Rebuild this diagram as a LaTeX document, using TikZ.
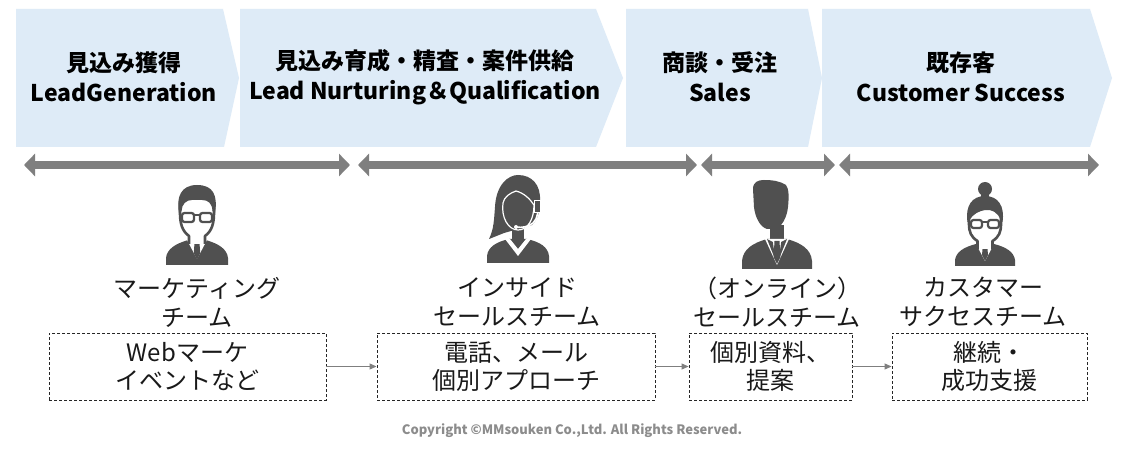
\documentclass[tikz,border=0pt]{standalone}
\usepackage{fontspec}
\setmainfont{Noto Sans CJK JP}
\usetikzlibrary{arrows.meta}
\definecolor{chev}{RGB}{222,235,247}
\definecolor{arrg}{RGB}{127,127,127}
\definecolor{iconc}{RGB}{80,80,80}
\definecolor{copyc}{RGB}{140,140,140}
\tikzset{
  chevshape/.style={fill=chev, draw=none},
  chevtext/.style={font=\fontsize{23}{30}\selectfont\bfseries, align=center, text=black, inner sep=0pt},
  team/.style={font=\fontsize{24}{29}\selectfont, align=center, inner sep=0pt, text=black!90},
  task/.style={draw=black!85, dash pattern=on 3pt off 2pt, line width=0.9pt, minimum height=67pt,
    font=\fontsize{24}{28}\selectfont, align=center, inner sep=0pt, text=black!90},
  phase/.style={arrg, line width=8pt, {Triangle[length=11pt,width=22pt]}-{Triangle[length=11pt,width=22pt]}},
  flow/.style={arrg, line width=1pt, -{Triangle[length=7pt,width=6pt]}},
  outline/.style={draw=iconc, line width=2.6pt, fill=white, line join=round},
  pics/manglasses/.style={code={
    \begin{scope}[yscale=-1]
      \fill[iconc] (-31,0) -- (-31,7) .. controls (-30,16) and (-22,21) .. (-9,25) -- (9,25) .. controls (22,21) and (30,16) .. (31,7) -- (31,0) -- cycle;
      \fill[white] (-10,25) -- (0,6) -- (10,25) -- cycle;
      \fill[iconc] (-2.5,22) -- (2.5,22) -- (3.2,12) -- (0,5) -- (-3.2,12) -- cycle;
      \draw[outline] (-8,21) -- (-8,29) .. controls (-15,34) and (-17,42) .. (-17,52) -- (-17,62) .. controls (-17,72) and (17,72) .. (17,62) -- (17,52) .. controls (17,42) and (15,34) .. (8,29) -- (8,21);
      \fill[iconc] (-18,52) .. controls (-21,68) and (-16,80) .. (0,80) .. controls (16,80) and (21,70) .. (18,52) -- (15.5,54) .. controls (15,62) and (11,65) .. (5,65) -- (-5,65) .. controls (-11,65) and (-15,61) .. (-15.5,54) -- cycle;
      \draw[draw=iconc, line width=2.3pt, fill=white, rounded corners=2.5pt] (-15,43) rectangle (-3,52);
      \draw[draw=iconc, line width=2.3pt, fill=white, rounded corners=2.5pt] (3,43) rectangle (15,52);
      \draw[iconc, line width=2.3pt] (-3,50) -- (3,50);
    \end{scope}}},
  pics/womanheadset/.style={code={
    \begin{scope}[yscale=-1]
      \fill[iconc] (-29,24) .. controls (-24,34) and (-24,44) .. (-23,56) .. controls (-22,78) and (-10,88) .. (0,88) .. controls (14,88) and (23,78) .. (22,62) .. controls (22,52) and (20,44) .. (14,38) -- (-14,30) -- cycle;
      \fill[iconc] (-31,0) -- (-31,7) .. controls (-30,16) and (-22,21) .. (-9,24) -- (9,24) .. controls (22,21) and (30,16) .. (31,7) -- (31,0) -- cycle;
      \fill[iconc] (-6,20) rectangle (6,34);
      \fill[white] (-13,24) -- (0,7) -- (13,24) -- (8,24) -- (0,14) -- (-8,24) -- cycle;
      \draw[white, line width=1.2pt, fill=iconc] (-15,60) .. controls (-17,46) and (-10,33) .. (0,33) .. controls (10,33) and (16,44) .. (16,58) .. controls (12,64) and (6,70) .. (-2,72) .. controls (-8,70) and (-14,66) .. (-15,60) -- cycle;
      \draw[white, line width=1.6pt] (18,60) .. controls (21,52) and (20,45) .. (15,40) .. controls (10,36) and (4,35) .. (-2,36);
      \fill[white] (-2,36) circle (2pt);
      \draw[white, line width=1pt, fill=iconc] (16,50) rectangle (22,62);
    \end{scope}}},
  pics/mansolid/.style={code={
    \begin{scope}[yscale=-1]
      \fill[iconc] (-35,0) -- (-35,8) .. controls (-34,20) and (-24,26) .. (-10,30) -- (10,30) .. controls (24,26) and (34,20) .. (35,8) -- (35,0) -- cycle;
      \fill[iconc] (-7,26) rectangle (7,44);
      \fill[iconc] (-10,40) .. controls (-17,42) and (-22,52) .. (-23,62) -- (-24,80) .. controls (-24,87) and (-19,89) .. (-13,89) .. controls (-5,89) and (3,88) .. (9,84) .. controls (12,80) and (12,72) .. (11,62) .. controls (10,52) and (5,42) .. (-2,40) -- cycle;
      \fill[white] (-12,30) -- (0,4) -- (12,30) -- cycle;
      \fill[iconc] (-10,30) -- (-1.6,9) -- (-4.2,27) -- cycle;
      \fill[iconc] (10,30) -- (1.6,9) -- (4.2,27) -- cycle;
      \fill[iconc] (-2.5,28) -- (2.5,28) -- (3.4,12) -- (0,5) -- (-3.4,12) -- cycle;
    \end{scope}}},
  pics/womanbun/.style={code={
    \begin{scope}[yscale=-1]
      \fill[iconc] (-30,0) -- (-30,6) .. controls (-29,14) and (-21,19) .. (-9,22) -- (9,22) .. controls (21,19) and (29,14) .. (30,6) -- (30,0) -- cycle;
      \fill[white] (-9,22) -- (0,5) -- (9,22) -- cycle;
      \fill[iconc] (-2.3,19) -- (2.3,19) -- (3,11) -- (0,5) -- (-3,11) -- cycle;
      \draw[outline] (-7.5,17) -- (-7.5,25) .. controls (-14,29) and (-16,34) .. (-16,42) -- (-16,50) .. controls (-16,62) and (16,62) .. (16,50) -- (16,42) .. controls (16,34) and (14,29) .. (7.5,25) -- (7.5,17);
      \fill[iconc] (-17.5,44) .. controls (-20,60) and (-13,70) .. (0,70) .. controls (13,70) and (20,60) .. (17.5,44) -- (15.5,46) .. controls (13,54) and (6,57) .. (0,56) .. controls (-6,55) and (-12,52) .. (-15.5,46) -- cycle;
      \fill[iconc] (-4,66) rectangle (4,74);
      \fill[iconc] (0,77) circle (7);
      \draw[draw=iconc, line width=2.2pt, fill=white, rounded corners=2.5pt] (-14,38) rectangle (-3,46);
      \draw[draw=iconc, line width=2.2pt, fill=white, rounded corners=2.5pt] (3,38) rectangle (14,46);
      \draw[iconc, line width=2.2pt] (-3,44) -- (3,44);
    \end{scope}}}
}
\begin{document}
\begin{tikzpicture}[x=1pt,y=-1pt]
  \useasboundingbox[fill=white] (0,0) rectangle (1129,454);
  % phase chevrons
  \fill[chevshape] (16,9) -- (223,9) -- (239,78) -- (224,147) -- (16,147) -- cycle;
  \fill[chevshape] (240,9) -- (596,9) -- (623,78) -- (596,147) -- (240,147) -- cycle;
  \fill[chevshape] (626,9) -- (808,9) -- (822,78) -- (808,147) -- (626,147) -- cycle;
  \fill[chevshape] (822,9) -- (1090,9) -- (1112,78) -- (1090,147) -- (822,147) -- cycle;
  \node[chevtext] (p1) at (124,77) {見込み獲得\\LeadGeneration};
  \node[chevtext] (p2) at (425,77) {見込み育成・精査・案件供給\\Lead Nurturing＆Qualification};
  \node[chevtext] (p3) at (720,77) {商談・受注\\Sales};
  \node[chevtext] (p4) at (961,77) {既存客\\Customer Success};
  % phase spans
  \coordinate (a1l) at (24,165);  \coordinate (a1r) at (350,165);
  \coordinate (a2l) at (358,165); \coordinate (a2r) at (697,165);
  \coordinate (a3l) at (701,165); \coordinate (a3r) at (835,165);
  \coordinate (a4l) at (839,165); \coordinate (a4r) at (1099,165);
  \draw[phase] (a1l) -- (a1r);
  \draw[phase] (a2l) -- (a2r);
  \draw[phase] (a3l) -- (a3r);
  \draw[phase] (a4l) -- (a4r);
  % icons
  \pic at (197,265) {manglasses};
  \pic at (518,263) {womanheadset};
  \pic at (777,269) {mansolid};
  \pic at (985,266) {womanbun};
  % team labels
  \node[team] (t1) at (197,302) {マーケティング\\チーム};
  \node[team] (t2) at (517,302) {インサイド\\セールスチーム};
  \node[team] (t3) at (777,302) {（オンライン）\\セールスチーム};
  \node[team] (t4) at (983,302) {カスタマー\\サクセスチーム};
  % task boxes
  \node[task, minimum width=277pt] (b1) at (187.5,366.5) {Webマーケ\\イベントなど};
  \node[task, minimum width=278pt] (b2) at (516,366.5) {電話、メール\\個別アプローチ};
  \node[task, minimum width=163pt] (b3) at (770.5,366.5) {個別資料、\\提案};
  \node[task, minimum width=195pt] (b4) at (989.5,366.5) {継続・\\成功支援};
  \draw[flow] (b1.east) -- (b2.west);
  \draw[flow] (b2.east) -- (b3.west);
  \draw[flow] (b3.east) -- (b4.west);
  % copyright
  \node[font=\fontsize{13}{15}\selectfont\bfseries, text=copyc, inner sep=0pt] (copy) at (572,431) {Copyright ©MMsouken Co.,Ltd. All Rights Reserved.};
\end{tikzpicture}
\end{document}
